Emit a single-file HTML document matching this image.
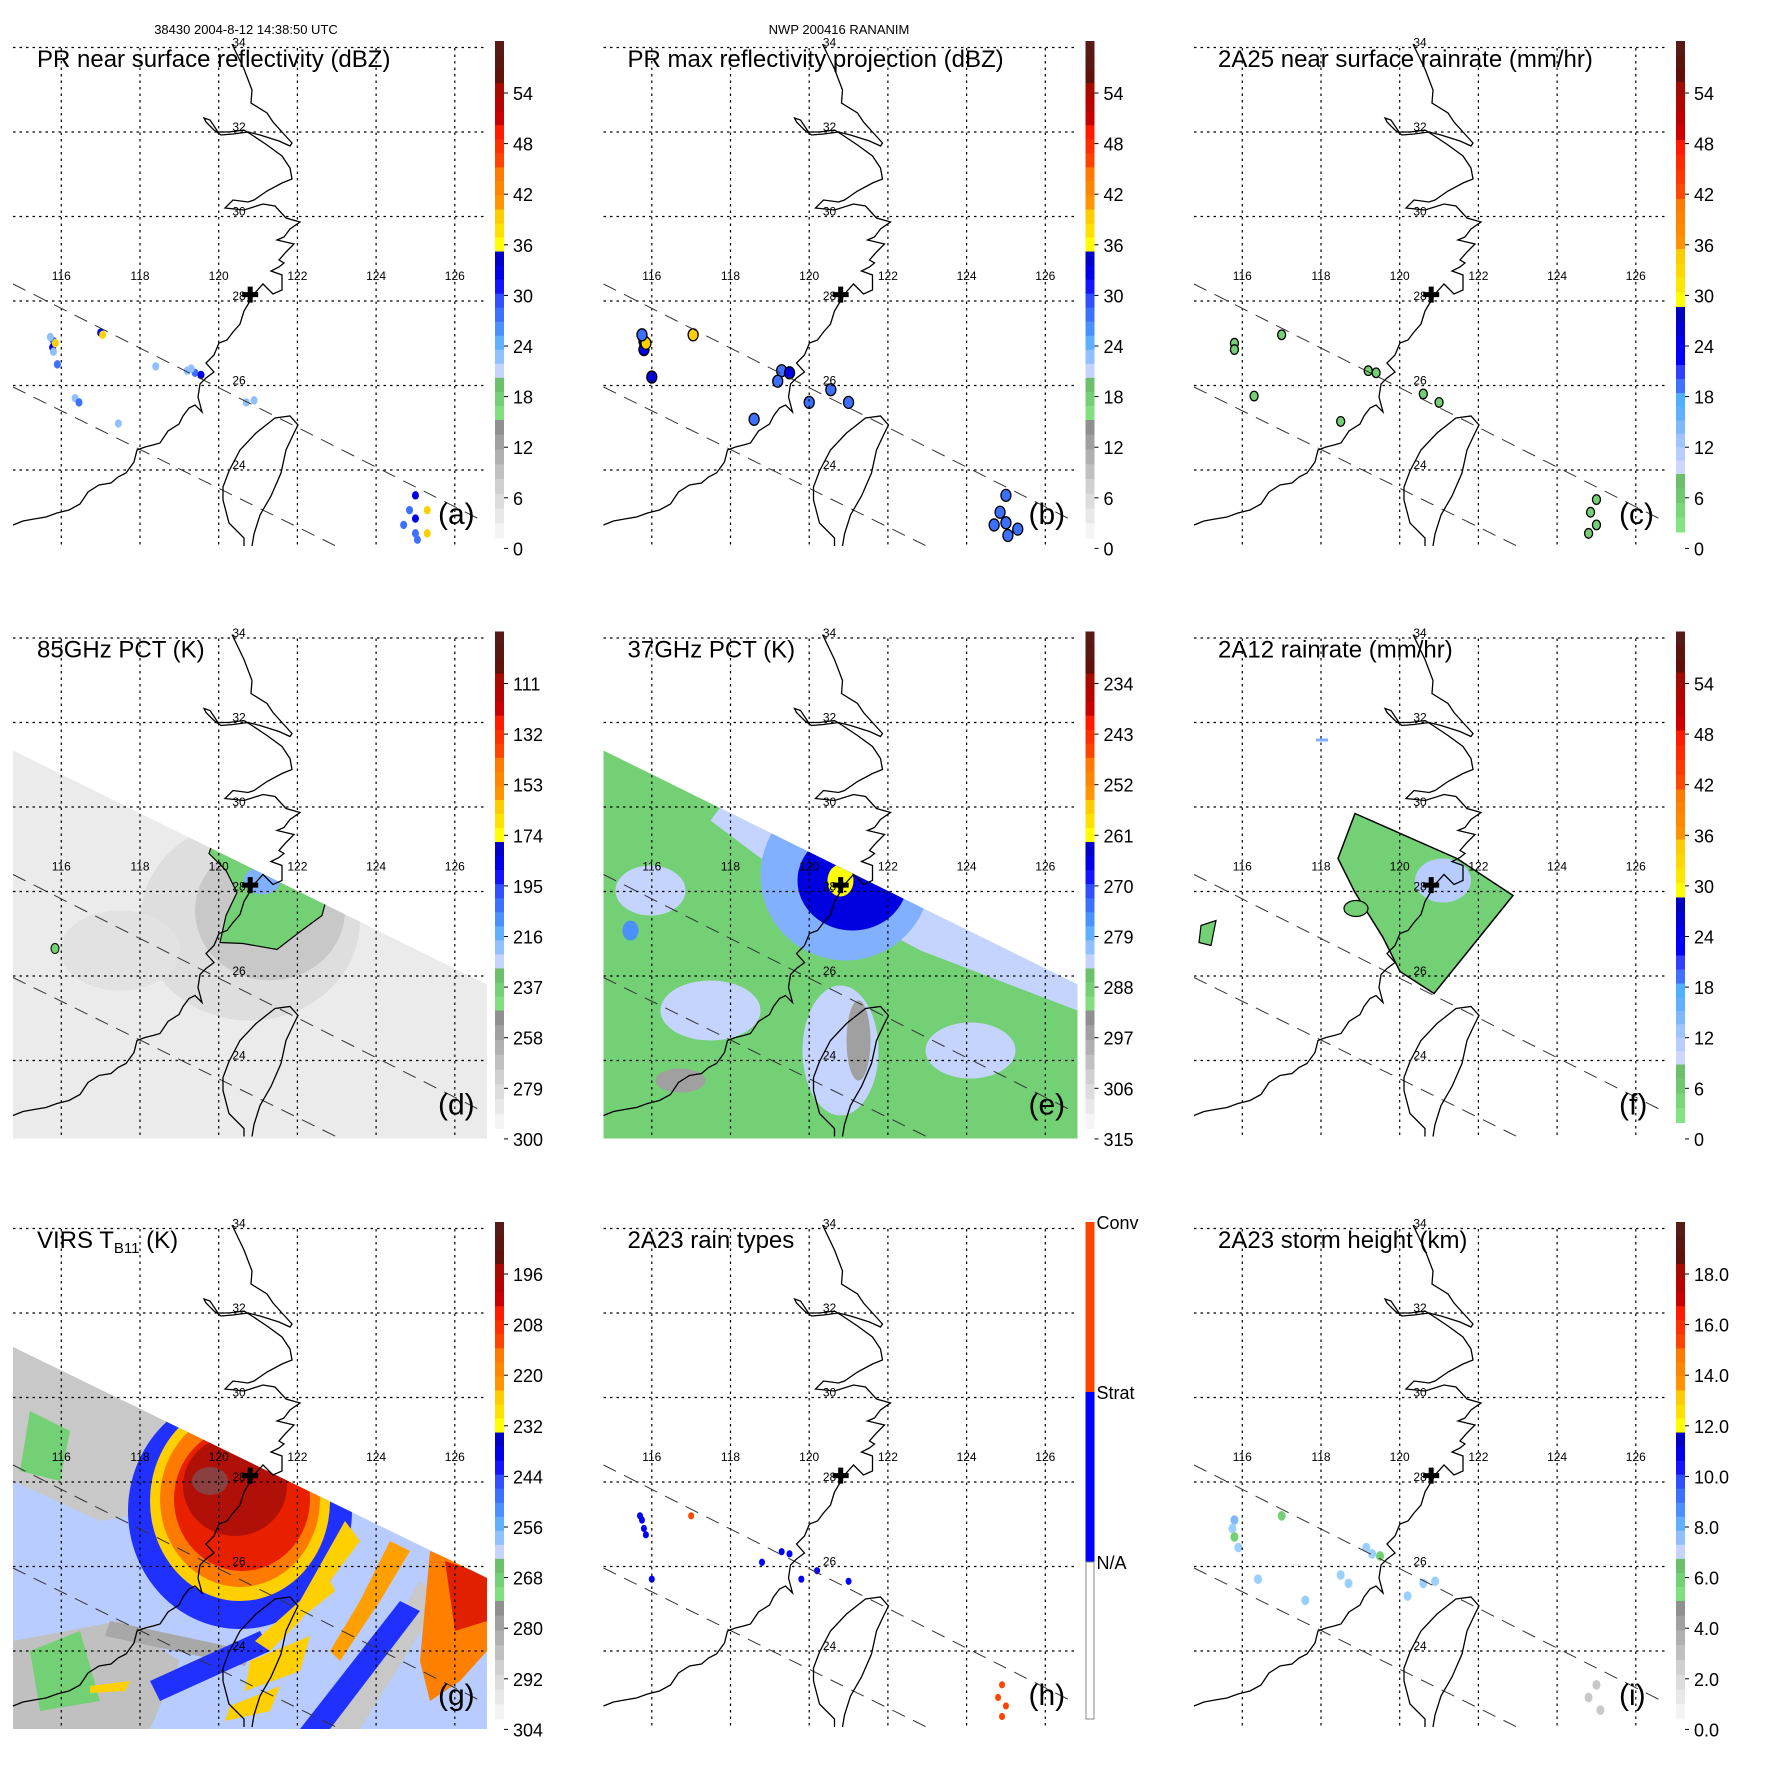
<!DOCTYPE html>
<html><head><meta charset="utf-8"><style>
html,body{margin:0;padding:0;background:#fff;}
svg{display:block;font-family:"Liberation Sans",sans-serif;}
</style></head><body>
<svg id="fig" width="1771" height="1771" viewBox="0 0 1771 1771" xmlns="http://www.w3.org/2000/svg">
<defs>
<path id="coast" d="M232,44 L244,69 L252,90 L251,103 L267,113 L273,122 L282,132 L292,143 L290,146 L279,141 L260,135 L248,132 L233,134 L221,135 L214,130 L206,122 L204,118 L210,120 L218,132 L229,132 L244,130 L252,135 L267,145 L282,156 L290,168 L292,179 L282,183 L267,191 L254,200 L248,202 L233,200 L225,208 L244,210 L263,204 L275,206 L286,218 L300,222 L290,229 L284,237 L277,240 L294,244 L286,252 L279,260 L284,263 L279,267 L271,271 L282,275 L282,290 L273,294 L263,284 L254,294 L250,301 L244,311 L240,324 L233,332 L227,340 L219,343 L214,355 L206,363 L214,372 L206,378 L200,384 L198,397 L202,412 L195,405 L189,408 L183,416 L179,424 L168,431 L160,443 L153,445 L145,447 L137,450 L134,462 L126,473 L118,477 L111,483 L99,485 L88,492 L80,504 L69,510 L57,513 L46,517 L34,519 L23,521 L13,525 M252,546 L254,534 L260,515 L271,496 L281,473 L286,450 L294,433 L298,425 L290,416 L275,418 L256,433 L240,450 L229,471 L223,487 L223,500 L229,523 L244,538 L244,546" fill="none" stroke="#000" stroke-width="1.3"/>
<clipPath id="swathClip"><polygon points="13,160 487,394 487,548 13,548"/></clipPath>
<clipPath id="swathClipG"><polygon points="13,166 487,397 487,548 13,548"/></clipPath>
</defs>
</svg>
<script>
// ---- data ----
const lonTicks = [116,118,120,122,124,126];
const latTicks = [24,26,28,30,32,34];
const titles = ["PR near surface reflectivity (dBZ)","PR max reflectivity projection (dBZ)","2A25 near surface rainrate (mm/hr)","85GHz PCT (K)","37GHz PCT (K)","2A12 rainrate (mm/hr)","VIRS T","2A23 rain types","2A23 storm height (km)"];
const panelTags = ["(a)","(b)","(c)","(d)","(e)","(f)","(g)","(h)","(i)"];
const cbLabelsA = ["54","48","42","36","30","24","18","12","6","0"];
const cbLabelsD = ["111","132","153","174","195","216","237","258","279","300"];
const cbLabelsE = ["234","243","252","261","270","279","288","297","306","315"];
const cbLabelsG = ["196","208","220","232","244","256","268","280","292","304"];
const cbLabelsH = ["Conv","Strat","N/A"];
const cbLabelsI = ["18.0","16.0","14.0","12.0","10.0","8.0","6.0","4.0","2.0","0.0"];
const centerLon = 120.8, centerLat = 28.15;
// rain cells [lon, lat, value]
const cellsA = [[115.8,27.05,28],[115.78,26.9,30],[115.85,27.0,36],[115.72,27.15,22],[115.8,26.8,18],[117.0,27.25,30],[117.05,27.2,36],[115.9,26.5,24],[116.35,25.7,18],[116.45,25.6,28],[119.2,26.35,18],[119.4,26.3,28],[119.55,26.25,30],[119.3,26.4,22],[120.7,25.6,18],[120.9,25.65,18],[117.45,25.1,18],[118.4,26.45,18],[125.0,23.4,30],[124.85,23.05,28],[125.0,22.85,30],[124.7,22.7,28],[125.0,22.5,28],[125.05,22.35,24],[125.3,22.5,36],[125.3,23.05,36]];
const cellsB = [[115.8,27.05,30],[115.8,26.85,33],[115.85,27.0,38],[115.75,27.2,28],[117.05,27.2,36],[116.0,26.2,30],[119.3,26.35,28],[119.5,26.3,32],[119.2,26.1,26],[120.55,25.9,24],[121.0,25.6,26],[120.0,25.6,26],[118.6,25.2,24],[125.0,23.4,26],[124.85,23.0,24],[125.0,22.75,26],[124.7,22.7,24],[125.05,22.45,24],[125.3,22.6,26]];
const cellsC = [[115.8,27.0,5],[115.8,26.85,5],[117.0,27.2,5],[116.3,25.75,4],[119.4,26.3,5],[119.2,26.35,4],[120.6,25.8,3],[121.0,25.6,4],[118.5,25.15,3],[125.0,23.3,4],[124.85,23.0,4],[125.0,22.7,4],[124.8,22.5,4]];
const cellsH = [[115.75,27.1,1],[115.8,26.9,1],[115.85,26.75,1],[115.7,27.2,1],[117.0,27.2,2],[116.0,25.7,1],[119.3,26.35,1],[119.5,26.3,1],[118.8,26.1,1],[119.8,25.7,1],[120.2,25.9,1],[121.0,25.65,1],[124.9,23.2,2],[124.8,22.9,2],[125.0,22.7,2],[124.9,22.45,2]];
const cellsI = [[115.8,27.1,8],[115.75,26.9,6],[115.8,26.7,5],[117.0,27.2,4],[115.9,26.45,6],[116.4,25.7,6],[119.3,26.3,6],[119.5,26.25,5],[119.15,26.45,6],[118.5,25.8,6],[118.7,25.6,6],[120.6,25.6,6],[120.9,25.65,6],[120.2,25.3,6],[117.6,25.2,6],[125.0,23.2,2],[124.8,22.9,2],[125.1,22.6,2]];

// ---- geometry ----
const PITCH = 590.5;
function xOf(lon){return 218.7+(lon-120)*39.35;}
function yOf(lat){return 301-(lat-28)*42.25;}
const NS="http://www.w3.org/2000/svg";
const svg=document.getElementById('fig');
function el(tag,attrs,parent){const e=document.createElementNS(NS,tag);for(const k in attrs)e.setAttribute(k,attrs[k]);(parent||svg).appendChild(e);return e;}

const bandsA=["#581a16","#5a1610","#5e120a","#a80a00","#b80400","#c80000","#ff1a00","#ff3000","#ff4400","#ff7a00","#ff8600","#ff9400","#ffcc00","#ffe000","#ffff00","#0000c8","#0000e8","#1414ff","#3050ff","#3c70ff","#4a90ff","#60b0ff","#90c0ff","#c4d4ff","#6cc06c","#74d074","#80e080"];
const graysA=["#909090","#a0a0a0","#b0b0b0","#c0c0c0","#d0d0d0","#dcdcdc","#e8e8e8","#f4f4f4"];
const segsC=[[41,82,["#581a16","#5c150e","#601008"]],[82,140,["#a00a00","#b00500","#c00000","#cc0000"]],[140,199,["#ff1a00","#ff2a00","#ff3800","#ff4800"]],[199,249,["#ff7a00","#ff8200","#ff8a00","#ff9200"]],[249,307,["#ffcc00","#ffd800","#ffe800","#ffff00"]],[307,365,["#0000c0","#0000d8","#0000f0","#0000ff"]],[365,407,["#3040ff","#4070ff","#50b0ff"]],[407,474,["#60b0ff","#80b8ff","#a0c4ff","#b8ccff","#ccd8ff"]],[474,532,["#6cc06c","#70c870","#78d878","#84e484"]]];

function colA(v){if(v>=36)return"#ffd000";if(v>=30)return"#0000e8";if(v>=24)return"#3c70ff";if(v>=18)return"#90c0ff";if(v>=12)return"#74d074";return"#c0c0c0";}
function colC(v){if(v>=24)return"#0000e0";if(v>=12)return"#60b0ff";if(v>=6)return"#b8ccff";return"#74d074";}
function colI(v){if(v>=8)return"#80b8ff";if(v>=6)return"#9ad0ff";if(v>=4)return"#74d074";return"#c8c8c8";}

function colorbar(g,type,labels){
  const x=495,w=9,top=41,bot=538;
  if(type==='A'){
    const h=(420-top)/bandsA.length;
    bandsA.forEach((c,i)=>{const r=el('rect',{x:x,y:top+i*h,width:w,height:h+0.5,fill:c},g);
      
      });
    const h2=(bot-420)/graysA.length;
    graysA.forEach((c,i)=>{const r=el('rect',{x:x,y:420+i*h2,width:w,height:h2+0.5,fill:c},g);
      
      });
  } else if(type==='C'){
    segsC.forEach(s=>{const h=(s[1]-s[0])/s[2].length;s[2].forEach((c,i)=>{const r=el('rect',{x:x,y:s[0]+i*h,width:w,height:h+0.5,fill:c},g);
      
      });});
  } else {
    const r1=el('rect',{x:x,y:top,width:w,height:211-top,fill:"#ff4500"},g);
    
    
    const r2=el('rect',{x:x,y:211,width:w,height:170,fill:"#0000ff"},g);
    
    
    const r3=el('rect',{x:x+0.5,y:381,width:w-1,height:bot-381,fill:"#fff",stroke:"#888","stroke-width":1},g);
    
    
  }
  if(type==='H'){
    const ys=[48,218,388];
    labels.forEach((l,i)=>{const t=el('text',{x:506,y:ys[i],'font-size':18,fill:'#000'},g);t.textContent=l;
      
      });
  } else {
    labels.forEach((l,i)=>{const yy=93+i*50.6;
      el('line',{x1:504,x2:508,y1:yy,y2:yy,stroke:'#000','stroke-width':1},g);
      const t=el('text',{x:513,y:yy+7,'font-size':18,fill:'#000'},g);t.textContent=l;
      
      });
  }
}

function drawCells(g,cells,colFn,r,outline){
  cells.forEach(c=>{const e=el('ellipse',{cx:xOf(c[0]),cy:yOf(c[1]),rx:r,ry:r*1.2,fill:colFn(c[2])},g);
    if(outline){e.setAttribute('stroke','#000');e.setAttribute('stroke-width','1.3');}
    
    });
}

function fieldD(g){
  const f=el('g',{'clip-path':'url(#swathClip)'},g);
  el('rect',{x:13,y:150,width:474,height:400,fill:'#ebebeb'},f);
  el('ellipse',{cx:250,cy:330,rx:110,ry:100,fill:'#dedede'},f);
  el('ellipse',{cx:270,cy:320,rx:75,ry:70,fill:'#c8c8c8'},f);
  el('ellipse',{cx:120,cy:360,rx:60,ry:40,fill:'#e2e2e2'},f);
  el('polygon',{points:'215,245 266,268 294,285 328,302 322,325 299,342 277,359 243,353 220,352 226,325 237,302 226,280 209,263',fill:'#74d074',stroke:'#000','stroke-width':1.2},f);
  el('ellipse',{cx:262,cy:290,rx:18,ry:14,fill:'#80b0ff'},f);
  el('ellipse',{cx:55,cy:358,rx:4,ry:5,fill:'#74d074',stroke:'#000'},f);
}
function fieldE(g){
  const f=el('g',{'clip-path':'url(#swathClip)'},g);
  el('rect',{x:13,y:150,width:474,height:400,fill:'#74d074'},f);
  el('polygon',{points:'150,190 487,360 487,420 330,360 200,290 120,230',fill:'#c4d4ff'},f);
  el('ellipse',{cx:60,cy:300,rx:35,ry:25,fill:'#c4d4ff'},f);
  el('ellipse',{cx:120,cy:420,rx:50,ry:30,fill:'#c4d4ff'},f);
  el('ellipse',{cx:380,cy:460,rx:45,ry:28,fill:'#c4d4ff'},f);
  el('ellipse',{cx:255,cy:285,rx:85,ry:85,fill:'#80b0ff'},f);
  el('ellipse',{cx:262,cy:290,rx:55,ry:50,fill:'#0000e0'},f);
  el('ellipse',{cx:250,cy:290,rx:13,ry:16,fill:'#ffff00'},f);
  el('ellipse',{cx:250,cy:460,rx:38,ry:65,fill:'#c4d4ff'},f);
  el('ellipse',{cx:268,cy:450,rx:12,ry:40,fill:'#a0a0a0'},f);
  el('ellipse',{cx:90,cy:490,rx:25,ry:12,fill:'#a0a0a0'},f);
  el('ellipse',{cx:40,cy:340,rx:8,ry:10,fill:'#4a90ff'},f);
}
function fieldF(g){
  el('polygon',{points:'174,223 276,268 332,305 253,403 219,381 202,347 174,302 157,268',fill:'#74d074',stroke:'#000','stroke-width':1.5},g);
  el('ellipse',{cx:262,cy:290,rx:28,ry:22,fill:'#b8ccff'},g);
  el('polygon',{points:'20,335 35,330 30,355 18,352',fill:'#74d074',stroke:'#000','stroke-width':1.2},g);
  el('ellipse',{cx:175,cy:318,rx:12,ry:8,fill:'#74d074',stroke:'#000','stroke-width':1.2},g);
  el('rect',{x:135,y:148,width:12,height:3,fill:'#80b0ff'},g);
}
function fieldG(g){
  const f=el('g',{'clip-path':'url(#swathClipG)'},g);
  el('rect',{x:13,y:150,width:474,height:400,fill:'#b8ccff'},f);
  el('polygon',{points:'13,160 180,240 160,330 100,340 13,300',fill:'#c8c8c8'},f);
  el('polygon',{points:'13,460 120,440 180,480 150,548 13,548',fill:'#c0c0c0'},f);
  el('polygon',{points:'110,440 250,470 245,485 105,455',fill:'#a8a8a8'},f);
  el('polygon',{points:'330,548 420,400 440,420 360,548',fill:'#c8c8c8'},f);
  el('polygon',{points:'30,230 70,250 60,300 20,290',fill:'#74d074'},f);
  el('polygon',{points:'30,470 80,450 100,520 40,530',fill:'#74d074'},f);
  el('polygon',{points:'150,500 260,450 270,470 160,520',fill:'#2030ff'},f);
  el('polygon',{points:'300,548 400,420 420,430 330,548',fill:'#2030ff'},f);
  el('ellipse',{cx:240,cy:330,rx:112,ry:118,fill:'#2030ff'},f);
  el('ellipse',{cx:240,cy:320,rx:90,ry:100,fill:'#ffd000'},f);
  el('ellipse',{cx:240,cy:318,rx:80,ry:88,fill:'#ff7a00'},f);
  el('ellipse',{cx:242,cy:318,rx:68,ry:72,fill:'#e82000'},f);
  el('ellipse',{cx:235,cy:305,rx:52,ry:50,fill:'#b01008'},f);
  el('ellipse',{cx:210,cy:300,rx:18,ry:14,fill:'#8a4040'},f);
  el('polygon',{points:'430,370 487,394 487,470 460,500 430,520 420,480',fill:'#ff8000'},f);
  el('polygon',{points:'445,380 487,394 487,440 455,450',fill:'#e02000'},f);
  el('polygon',{points:'345,340 360,360 300,440 270,470 255,460 300,420',fill:'#ffd000'},f);
  el('polygon',{points:'390,360 410,370 380,420 340,480 330,470 360,420',fill:'#ffa000'},f);
  el('polygon',{points:'250,480 310,455 300,490 245,510',fill:'#ffd000'},f);
  el('polygon',{points:'230,525 280,505 270,530 225,540',fill:'#ffd000'},f);
  el('polygon',{points:'90,505 130,500 125,510 90,512',fill:'#ffd000'},f);
  el('polygon',{points:'280,440 330,400 335,410 285,450',fill:'#ffd000'},f);
}

function panel(i){
  const ox=(i%3)*PITCH, oy=Math.floor(i/3)*PITCH;
  const g=el('g',{transform:`translate(${ox},${oy})`});
  
  
  if(i===3)fieldD(g);
  if(i===4)fieldE(g);
  if(i===5)fieldF(g);
  if(i===6)fieldG(g);
  if(i===0)drawCells(g,cellsA,colA,3.5,false);
  if(i===1)drawCells(g,cellsB,colA,5,true);
  if(i===2)drawCells(g,cellsC,colC,4,true);
  if(i===7)drawCells(g,cellsH,v=>v===2?'#ff4500':'#0000ff',3,false);
  if(i===8)drawCells(g,cellsI,colI,4,false);
  // grid
  lonTicks.forEach(l=>{const ln=el('line',{x1:xOf(l),x2:xOf(l),y1:48,y2:547,stroke:'#000','stroke-width':1.2,'stroke-dasharray':'2.5 4'},g);
    
    
    const t=el('text',{x:xOf(l),y:280,'font-size':12,'text-anchor':'middle',fill:'#000'},g);t.textContent=l;
    
    });
  latTicks.forEach(l=>{const ln=el('line',{x1:13,x2:487,y1:yOf(l),y2:yOf(l),stroke:'#000','stroke-width':1.2,'stroke-dasharray':'2.5 4'},g);
    
    
    const t=el('text',{x:239,y:yOf(l)-1,'font-size':12,'text-anchor':'middle',fill:'#000'},g);t.textContent=l;
    
    });
  // swath edges
  el('line',{x1:13,y1:284,x2:483,y2:521,stroke:'#333','stroke-width':1,'stroke-dasharray':'14 9'},g);
  el('line',{x1:13,y1:387,x2:338,y2:547,stroke:'#333','stroke-width':1,'stroke-dasharray':'14 9'},g);
  const u=el('use',{href:'#coast'},g);
  
  
  // storm center
  const cx=xOf(centerLon), cy=yOf(centerLat);
  const cr=el('path',{d:`M${cx-8},${cy-2.5}h16v5h-16z M${cx-2.5},${cy-8}h5v16h-5z`,fill:'#000'},g);
  
  
  // title
  const t=el('text',{x:37,y:67,'font-size':24,fill:'#000'},g);
  
  
  if(i===6){t.textContent='VIRS T';const s=el('tspan',{'font-size':15,dy:5},t);s.textContent='B11';const s2=el('tspan',{dy:-5},t);s2.textContent=' (K)';}
  else t.textContent=titles[i];
  const tg=el('text',{x:438,y:524,'font-size':30,fill:'#000'},g);tg.textContent=panelTags[i];
  
  
  const cbt = (i===2||i===5)?'C':(i===7?'H':'A');
  const labs=[cbLabelsA,cbLabelsA,cbLabelsA,cbLabelsD,cbLabelsE,cbLabelsA,cbLabelsG,cbLabelsH,cbLabelsI][i];
  const cg=el('g',{},g);
  
  
  colorbar(cg,cbt,labs);
}
for(let i=0;i<9;i++)panel(i);
const h1=el('text',{x:246,y:34,'font-size':13,'text-anchor':'middle',fill:'#000'});
h1.textContent='38430 2004-8-12 14:38:50 UTC';


const h2=el('text',{x:839,y:34,'font-size':13,'text-anchor':'middle',fill:'#000'});
h2.textContent='NWP 200416 RANANIM';


</script>
</body></html>
